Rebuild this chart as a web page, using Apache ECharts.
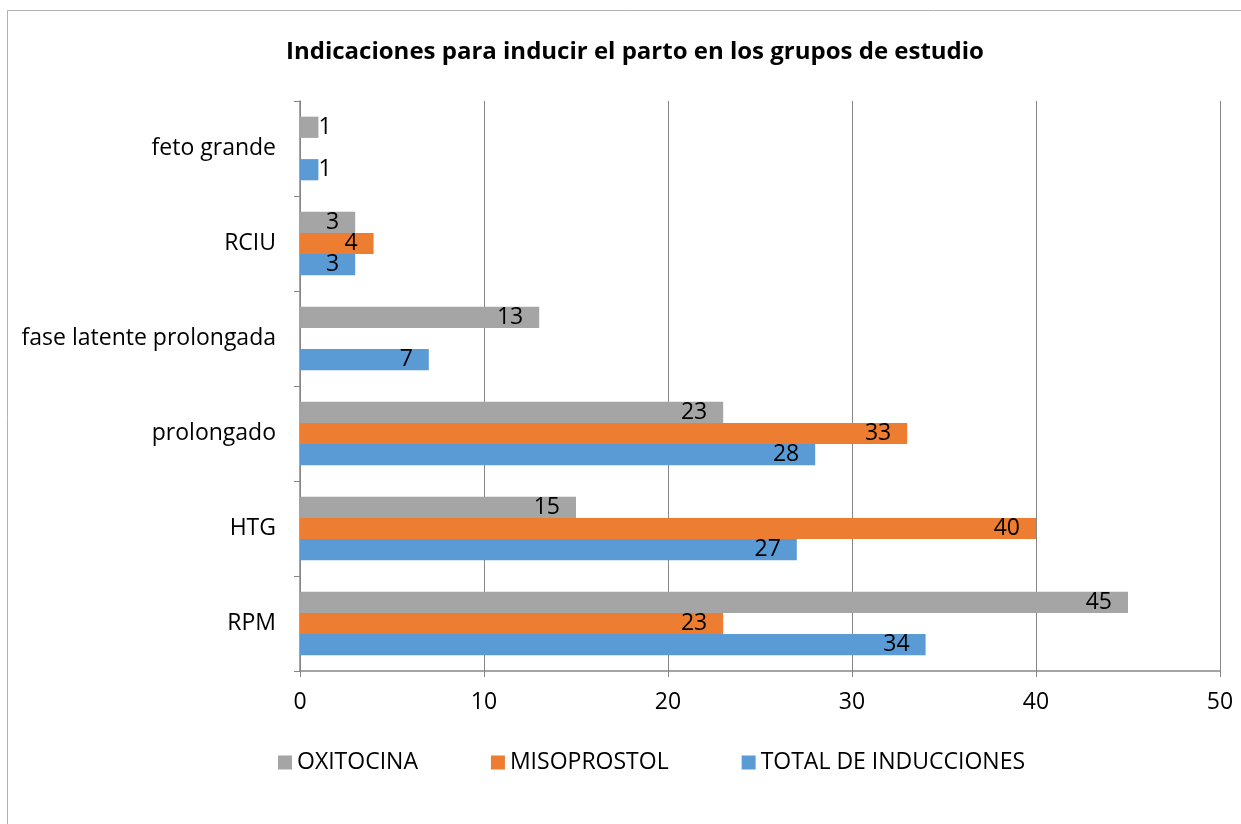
<!DOCTYPE html>
<html><head><meta charset="utf-8">
<script src="https://cdn.jsdelivr.net/npm/echarts@6/dist/echarts.min.js"></script>
<style>html,body{margin:0;padding:0;background:#fff}#c{width:1241px;height:824px}</style>
</head><body><div id="c"></div>
<script>
const categories = ['RPM', 'HTG', 'prolongado', 'fase latente prolongada', 'RCIU', 'feto grande'];
const totalInducciones = [34, 27, 28, 7, 3, 1];
const misoprostol = [23, 40, 33, null, 4, null];
const oxitocina = [45, 15, 23, 13, 3, 1];
const xTicks = [0, 10, 20, 30, 40, 50];

const FONT = '"Open Sans", sans-serif';
function mkData(arr) {
  return arr.map(v => (v !== null && v < 2)
    ? { value: v, label: { position: 'right', distance: 0 } }
    : v);
}
function mkSeries(name, arr, color) {
  return {
    name, type: 'bar', data: mkData(arr), barGap: '0%', barCategoryGap: '33%',
    itemStyle: { color },
    label: { show: true, position: 'insideRight', distance: 16, color: '#000', fontSize: 23, fontFamily: FONT, padding: [3, 0, 0, 0] },
  };
}
const chart = echarts.init(document.getElementById('c'), null, { renderer: 'canvas' });
chart.setOption({
  animation: false,
  backgroundColor: '#fff',
  title: { text: 'Indicaciones para inducir el parto en los grupos de estudio', left: 630, top: 35, textAlign: 'center',
    textStyle: { fontFamily: FONT, fontWeight: 'bold', fontSize: 24, color: '#000' } },
  graphic: [{ type: 'rect', shape: { x: 7.5, y: 10.5, width: 1400, height: 900 }, style: { fill: 'none', stroke: '#b0b0b0', lineWidth: 1 }, silent: true }],
  legend: {
    left: 273, top: 746, itemWidth: 14, itemHeight: 14, itemGap: 73, icon: 'rect',
    data: ['OXITOCINA', 'MISOPROSTOL', 'TOTAL DE INDUCCIONES'],
    textStyle: { fontFamily: FONT, fontSize: 23, color: '#000' }
  },
  grid: { left: 300, top: 101, width: 920, height: 570 },
  xAxis: {
    type: 'value', min: xTicks[0], max: xTicks[xTicks.length - 1], interval: 10,
    axisLine: { show: true, lineStyle: { color: '#868686', width: 1.5 } },
    axisTick: { show: true, length: 6, lineStyle: { color: '#868686' } },
    splitLine: { show: true, lineStyle: { color: '#868686', width: 1 } },
    axisLabel: { fontFamily: FONT, fontSize: 23, color: '#000', margin: 20 }
  },
  yAxis: {
    type: 'category', data: categories,
    axisLine: { show: true, lineStyle: { color: '#868686', width: 1.5 } },
    axisTick: { show: true, length: 6, alignWithLabel: false, lineStyle: { color: '#868686' } },
    axisLabel: { fontFamily: FONT, fontSize: 23, color: '#000', margin: 24 }
  },
  series: [
    mkSeries('OXITOCINA', oxitocina, '#A5A5A5'),
    mkSeries('MISOPROSTOL', misoprostol, '#ED7D31'),
    mkSeries('TOTAL DE INDUCCIONES', totalInducciones, '#5B9BD5'),
  ]
});
</script></body></html>
